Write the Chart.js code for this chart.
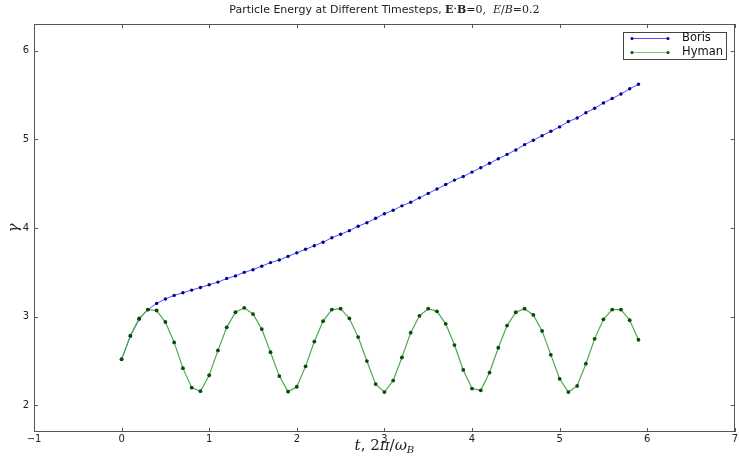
<!DOCTYPE html>
<html>
<head>
<meta charset="utf-8">
<script src="https://cdn.jsdelivr.net/npm/chart.js@4.4.0/dist/chart.umd.min.js"></script>
<style>
  html, body { margin: 0; padding: 0; background: #fff; }
  #wrap { width: 739px; height: 459px; }
</style>
</head>
<body>
<div id="wrap"><canvas id="energyChart" width="739" height="459"></canvas></div>
<script>
// ===========================
// DATA
// ===========================
const times = [
  0.0, 0.1, 0.2, 0.3, 0.4, 0.5, 0.6, 0.7, 0.8, 0.9,
  1.0, 1.1, 1.2, 1.3, 1.4, 1.5, 1.6, 1.7, 1.8, 1.9,
  2.0, 2.1, 2.2, 2.3, 2.4, 2.5, 2.6, 2.7, 2.8, 2.9,
  3.0, 3.1, 3.2, 3.3, 3.4, 3.5, 3.6, 3.7, 3.8, 3.9,
  4.0, 4.1, 4.2, 4.3, 4.4, 4.5, 4.6, 4.7, 4.8, 4.9,
  5.0, 5.1, 5.2, 5.3, 5.4, 5.5, 5.6, 5.7, 5.8, 5.9
];
const borisGamma = [
  2.52, 2.78, 2.97, 3.08, 3.15, 3.20, 3.24, 3.27, 3.30, 3.33,
  3.36, 3.39, 3.43, 3.46, 3.50, 3.53, 3.57, 3.61, 3.64, 3.68,
  3.72, 3.76, 3.80, 3.84, 3.89, 3.93, 3.97, 4.02, 4.06, 4.11,
  4.16, 4.20, 4.25, 4.29, 4.34, 4.39, 4.44, 4.49, 4.54, 4.58,
  4.63, 4.68, 4.73, 4.78, 4.83, 4.88, 4.94, 4.99, 5.04, 5.09,
  5.14, 5.20, 5.24, 5.30, 5.35, 5.41, 5.46, 5.51, 5.57, 5.62
];
const hymanGamma = [
  2.52, 2.785, 2.98, 3.08, 3.07, 2.94, 2.71, 2.42, 2.20, 2.16,
  2.34, 2.62, 2.88, 3.05, 3.10, 3.03, 2.86, 2.60, 2.33, 2.155,
  2.21, 2.44, 2.72, 2.95, 3.08, 3.09, 2.98, 2.77, 2.50, 2.24,
  2.15, 2.28, 2.54, 2.82, 3.01, 3.09, 3.06, 2.92, 2.68, 2.40,
  2.19, 2.17, 2.37, 2.65, 2.90, 3.05, 3.09, 3.02, 2.84, 2.57,
  2.30, 2.15, 2.22, 2.47, 2.75, 2.97, 3.08, 3.08, 2.96, 2.74
];
const seriesLabels = ['Boris', 'Hyman'];
const xTicks = [-1, 0, 1, 2, 3, 4, 5, 6, 7];
const yTicks = [2, 3, 4, 5, 6];

// ===========================
// STYLES
// ===========================
const BORIS_LINE = '#5050ff';
const BORIS_DOT = '#00008c';
const HYMAN_LINE = '#4caa4c';
const HYMAN_DOT = '#0a4a0a';
const FRAME = '#555555';
const SANS = '"DejaVu Sans", sans-serif';
const SERIF = '"DejaVu Serif", serif';

const toPoints = (xs, ys) => xs.map((x, i) => ({ x: x, y: ys[i] }));
const fmtTick = v => (v < 0 ? '\u2212' + Math.abs(v) : String(v));

// draw a run of text pieces with different fonts, centred on cx
function drawRuns(ctx, runs, cx, cy) {
  let total = 0;
  runs.forEach(r => { ctx.font = r.font; total += ctx.measureText(r.text).width; });
  let x = cx - total / 2;
  runs.forEach(r => {
    ctx.font = r.font;
    ctx.fillText(r.text, x, cy + (r.dy || 0));
    x += ctx.measureText(r.text).width;
  });
}

// ===========================
// MATPLOTLIB-LIKE DECORATIONS
// ===========================
const decorPlugin = {
  id: 'decor',
  afterDraw(chart) {
    const ctx = chart.ctx;
    const a = chart.chartArea;
    const sx = chart.scales.x, sy = chart.scales.y;
    ctx.save();

    // frame
    ctx.strokeStyle = FRAME;
    ctx.lineWidth = 1;
    ctx.strokeRect(Math.round(a.left) + 0.5, Math.round(a.top) + 0.5,
      Math.round(a.right - a.left) - 1, Math.round(a.bottom - a.top) - 1);

    // inward tick marks on all four sides
    ctx.beginPath();
    xTicks.forEach(v => {
      const px = Math.round(sx.getPixelForValue(v)) + 0.5;
      ctx.moveTo(px, a.bottom); ctx.lineTo(px, a.bottom - 4);
      ctx.moveTo(px, a.top); ctx.lineTo(px, a.top + 4);
    });
    yTicks.forEach(v => {
      const py = Math.round(sy.getPixelForValue(v)) + 0.5;
      ctx.moveTo(a.left, py); ctx.lineTo(a.left + 4, py);
      ctx.moveTo(a.right, py); ctx.lineTo(a.right - 4, py);
    });
    ctx.stroke();

    ctx.fillStyle = '#222';
    ctx.textBaseline = 'middle';
    ctx.textAlign = 'left';

    // title
    drawRuns(ctx, [
      { text: 'Particle Energy at Different Timesteps, ', font: '11px ' + SANS },
      { text: 'E', font: 'bold 11px ' + SERIF },
      { text: '\u00b7', font: '11px ' + SERIF },
      { text: 'B', font: 'bold 11px ' + SERIF },
      { text: '=0,  ', font: '11px ' + SERIF },
      { text: 'E', font: 'italic 11px ' + SERIF },
      { text: '/', font: '11px ' + SERIF },
      { text: 'B', font: 'italic 11px ' + SERIF },
      { text: '=0.2', font: '11px ' + SERIF }
    ], (a.left + a.right) / 2, 10);

    // x axis title: t, 2π/ω_B
    drawRuns(ctx, [
      { text: 't', font: 'italic 15px ' + SERIF },
      { text: ', 2', font: '15px ' + SERIF },
      { text: '\u03c0', font: 'italic 15px ' + SERIF },
      { text: '/', font: '15px ' + SERIF },
      { text: '\u03c9', font: 'italic 15px ' + SERIF },
      { text: 'B', font: 'italic 10px ' + SERIF, dy: 4 }
    ], (a.left + a.right) / 2, 446);

    // y axis title
    ctx.save();
    ctx.translate(14, (a.top + a.bottom) / 2);
    ctx.rotate(-Math.PI / 2);
    ctx.textAlign = 'center';
    ctx.font = 'italic 15px ' + SERIF;
    ctx.fillText('\u03b3', 0, 0);
    ctx.restore();

    // legend box (upper right)
    const lx = 623.5, ly = 32.5, lw = 103, lh = 27;
    ctx.fillStyle = '#fff';
    ctx.fillRect(lx, ly, lw, lh);
    ctx.strokeStyle = '#444';
    ctx.lineWidth = 1;
    ctx.strokeRect(lx, ly, lw, lh);
    const rows = [
      { label: seriesLabels[0], line: BORIS_LINE, dot: BORIS_DOT, y: 38.5 },
      { label: seriesLabels[1], line: '#80c880', dot: HYMAN_DOT, y: 52.5 }
    ];
    rows.forEach(r => {
      ctx.strokeStyle = r.line;
      ctx.lineWidth = 1.2;
      ctx.beginPath();
      ctx.moveTo(632, r.y); ctx.lineTo(668, r.y);
      ctx.stroke();
      ctx.fillStyle = r.dot;
      [632, 668].forEach(px => {
        ctx.beginPath(); ctx.arc(px, r.y, 1.5, 0, Math.PI * 2); ctx.fill();
      });
      ctx.fillStyle = '#111';
      ctx.font = '11.5px ' + SANS;
      ctx.textAlign = 'left';
      ctx.fillText(r.label, 682, r.y);
    });

    ctx.restore();
  }
};

// ===========================
// CHART
// ===========================
const energyCtx = document.getElementById('energyChart').getContext('2d');

new Chart(energyCtx, {
  type: 'line',
  data: {
    datasets: [{
      label: seriesLabels[0],
      data: toPoints(times, borisGamma),
      borderColor: BORIS_LINE,
      borderWidth: 1,
      pointRadius: 1.7,
      pointBackgroundColor: BORIS_DOT,
      pointBorderWidth: 0,
      tension: 0,
      order: 1
    }, {
      label: seriesLabels[1],
      data: toPoints(times, hymanGamma),
      borderColor: HYMAN_LINE,
      borderWidth: 1.2,
      pointRadius: 1.9,
      pointBackgroundColor: HYMAN_DOT,
      pointBorderWidth: 0,
      tension: 0,
      order: 0
    }]
  },
  options: {
    responsive: false,
    animation: false,
    layout: { padding: { top: 24, right: 3, left: 0, bottom: 0 } },
    scales: {
      x: {
        type: 'linear',
        min: -1,
        max: 7,
        afterBuildTicks: s => { s.ticks = xTicks.map(v => ({ value: v })); },
        afterFit: s => { s.height = 27; },
        grid: { display: false, drawTicks: false },
        border: { display: false },
        ticks: { color: '#222', padding: 1, font: { size: 10, family: 'DejaVu Sans' }, maxRotation: 0, callback: fmtTick }
      },
      y: {
        min: 1.7,
        max: 6.3,
        afterBuildTicks: s => { s.ticks = yTicks.map(v => ({ value: v })); },
        afterFit: s => { s.width = 34; },
        grid: { display: false, drawTicks: false },
        border: { display: false },
        ticks: { color: '#222', padding: 5, font: { size: 10, family: 'DejaVu Sans' }, callback: fmtTick }
      }
    },
    plugins: {
      legend: { display: false },
      title: { display: false },
      tooltip: { enabled: false }
    }
  },
  plugins: [decorPlugin]
});
</script>
</body>
</html>
